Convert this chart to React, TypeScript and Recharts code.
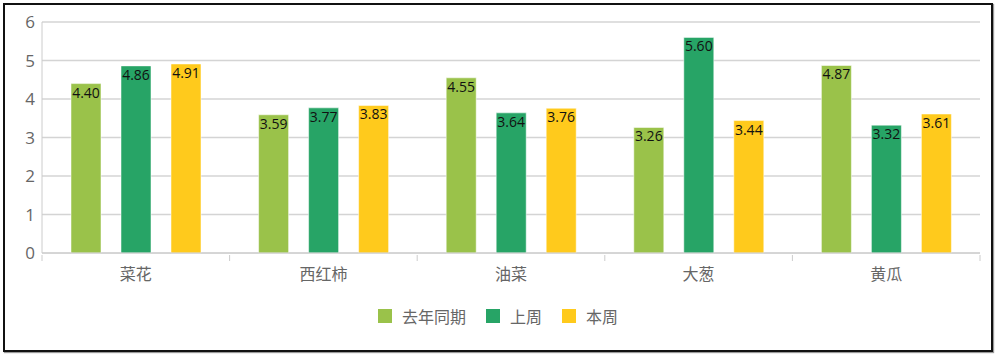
import React from 'react';
import { BarChart, Bar, XAxis, YAxis, CartesianGrid, Legend, LabelList } from 'recharts';

const categories = ['菜花', '西红柿', '油菜', '大葱', '黄瓜'];
const lastYear = [4.4, 3.59, 4.55, 3.26, 4.87];
const lastWeek = [4.86, 3.77, 3.64, 5.6, 3.32];
const thisWeek = [4.91, 3.83, 3.76, 3.44, 3.61];
const yTicks = [0, 1, 2, 3, 4, 5, 6];

const series = [
  { key: 'lastYear', name: '去年同期', color: '#9AC24A' },
  { key: 'lastWeek', name: '上周', color: '#27A466' },
  { key: 'thisWeek', name: '本周', color: '#FFCA1C' },
];

const CHART_W = 986;
const CHART_H = 345;
const margin = { top: 17, right: 11, left: 7, bottom: 67 };
const Y_W = 30;
const band = (CHART_W - margin.left - margin.right - Y_W) / categories.length;

const font = '"Open Sans", "Noto Sans CJK SC", sans-serif';

const CategoryTick = (props: any) => {
  const { x, y, payload, index } = props;
  return (
    <g>
      <line x1={x - band / 2} x2={x - band / 2} y1={y} y2={y + 6} stroke="#ccc" />
      {index === categories.length - 1 && (
        <line x1={x + band / 2} x2={x + band / 2} y1={y} y2={y + 6} stroke="#ccc" />
      )}
      <text x={x} y={y + 25} textAnchor="middle" fill="#666" fontSize={16} fontFamily={font}>
        {payload.value}
      </text>
    </g>
  );
};

const LegendContent = () => (
  <div style={{ display: 'flex', justifyContent: 'center', gap: 20, fontFamily: font, fontSize: 16, color: '#666' }}>
    {series.map((s) => (
      <div key={s.key} style={{ display: 'flex', alignItems: 'center' }}>
        <span style={{ width: 14, height: 14, background: s.color, display: 'inline-block', marginRight: 10 }} />
        <span>{s.name}</span>
      </div>
    ))}
  </div>
);

export default function App() {
  const data = categories.map((name, i) => ({
    name,
    lastYear: lastYear[i],
    lastWeek: lastWeek[i],
    thisWeek: thisWeek[i],
  }));

  return (
    <div
      style={{
        position: 'absolute',
        left: 3,
        top: 3,
        width: CHART_W,
        height: CHART_H,
        border: '2px solid #111',
        background: '#fff',
        boxShadow: '1px 1px 1px #999',
      }}
    >
      <BarChart
        width={CHART_W}
        height={CHART_H}
        data={data}
        margin={margin}
        barSize={30}
        barGap={20}
      >
        <CartesianGrid vertical={false} stroke="#d4d4d4" strokeWidth={1.3} />
        <XAxis
          dataKey="name"
          stroke="#ccc"
          tickSize={0}
          tickLine={false}
          height={30}
          tick={<CategoryTick />}
          interval={0}
        />
        <YAxis
          width={Y_W}
          domain={[0, 6]}
          ticks={yTicks}
          stroke="#ccc"
          tickLine={false}
          tickSize={0}
          tickMargin={7}
          tick={{ fill: '#666', fontSize: 17, fontFamily: font }}
        />
        <Legend
          layout="horizontal"
          verticalAlign="middle"
          align="center"
          wrapperStyle={{ top: 299, left: 0, width: CHART_W }}
          content={<LegendContent />}
        />
        {series.map((s) => (
          <Bar
            key={s.key}
            dataKey={s.key}
            name={s.name}
            fill={s.color}
            stroke="#ffffff"
            strokeOpacity={0.5}
            isAnimationActive={false}
          >
            <LabelList
              dataKey={s.key}
              position="insideTop"
              offset={4}
              formatter={(v: any) => Number(v).toFixed(2)}
              style={{ fill: '#111', fontSize: 14, fontFamily: font }}
            />
          </Bar>
        ))}
      </BarChart>
    </div>
  );
}
